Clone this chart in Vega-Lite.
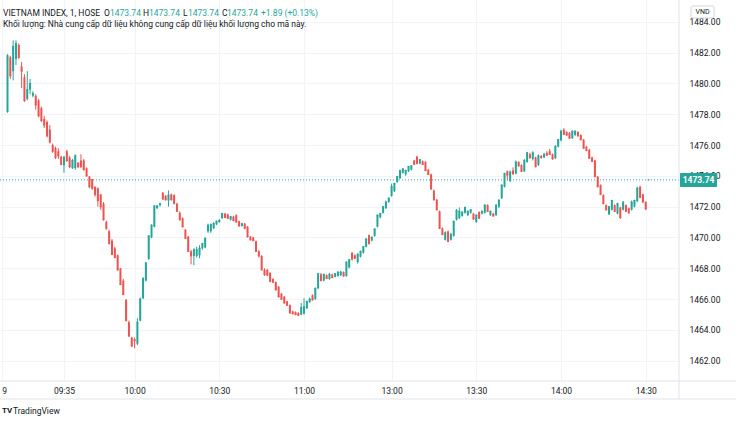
{
"$schema": "https://vega.github.io/schema/vega-lite/v6.json",
"width": 679, "height": 381,
"autosize": {"type": "none"},
"padding": {"left": 0, "top": 0, "right": 57, "bottom": 49},
"background": "#ffffff",
"config": {"view": {"stroke": null}, "font": "Roboto"},
"datasets": {
"candles": [
{"i":0,"o":1478.15,"h":1481.9,"l":1478.1,"c":1481.8},
{"i":1,"o":1481.7,"h":1481.8,"l":1480.3,"c":1480.5},
{"i":2,"o":1480.8,"h":1482.8,"l":1480.2,"c":1482.4},
{"i":3,"o":1481.6,"h":1482.8,"l":1481.2,"c":1482.6},
{"i":4,"o":1482.5,"h":1482.6,"l":1481.6,"c":1481.7},
{"i":5,"o":1481.1,"h":1481.4,"l":1479.7,"c":1480.8},
{"i":6,"o":1480.4,"h":1480.6,"l":1478.8,"c":1478.9},
{"i":7,"o":1479.0,"h":1480.8,"l":1478.9,"c":1479.6},
{"i":8,"o":1479.6,"h":1480.3,"l":1479.3,"c":1480.0},
{"i":9,"o":1479.2,"h":1479.5,"l":1479.1,"c":1479.35},
{"i":10,"o":1479.2,"h":1479.3,"l":1478.3,"c":1478.6},
{"i":11,"o":1478.9,"h":1479.0,"l":1477.8,"c":1477.9},
{"i":12,"o":1478.4,"h":1478.5,"l":1477.5,"c":1477.6},
{"i":13,"o":1477.7,"h":1477.9,"l":1477.1,"c":1477.3},
{"i":14,"o":1477.5,"h":1477.6,"l":1476.5,"c":1476.6},
{"i":15,"o":1477.0,"h":1477.3,"l":1476.1,"c":1476.2},
{"i":16,"o":1476.0,"h":1476.1,"l":1475.5,"c":1475.6},
{"i":17,"o":1475.8,"h":1475.9,"l":1475.1,"c":1475.2},
{"i":18,"o":1475.6,"h":1475.8,"l":1475.1,"c":1475.3},
{"i":19,"o":1475.25,"h":1475.3,"l":1474.7,"c":1474.75},
{"i":20,"o":1474.7,"h":1475.3,"l":1474.2,"c":1475.2},
{"i":21,"o":1475.6,"h":1475.7,"l":1474.9,"c":1475.0},
{"i":22,"o":1475.2,"h":1475.3,"l":1474.5,"c":1474.6},
{"i":23,"o":1474.5,"h":1475.1,"l":1474.45,"c":1475.0},
{"i":24,"o":1474.5,"h":1475.4,"l":1474.4,"c":1475.3},
{"i":25,"o":1474.85,"h":1474.9,"l":1474.5,"c":1474.6},
{"i":26,"o":1475.0,"h":1475.4,"l":1474.5,"c":1474.6},
{"i":27,"o":1475.0,"h":1475.1,"l":1474.35,"c":1474.4},
{"i":28,"o":1474.5,"h":1474.55,"l":1473.95,"c":1474.0},
{"i":29,"o":1473.95,"h":1474.0,"l":1473.2,"c":1473.3},
{"i":30,"o":1473.8,"h":1473.8,"l":1473.1,"c":1473.2},
{"i":31,"o":1473.3,"h":1473.3,"l":1472.65,"c":1472.8},
{"i":32,"o":1473.2,"h":1473.25,"l":1472.0,"c":1472.4},
{"i":33,"o":1472.8,"h":1472.8,"l":1471.8,"c":1472.0},
{"i":34,"o":1472.2,"h":1472.3,"l":1471.1,"c":1471.15},
{"i":35,"o":1471.0,"h":1471.1,"l":1470.5,"c":1470.6},
{"i":36,"o":1470.4,"h":1470.5,"l":1469.55,"c":1469.6},
{"i":37,"o":1469.8,"h":1469.9,"l":1468.85,"c":1468.9},
{"i":38,"o":1469.3,"h":1469.4,"l":1468.65,"c":1468.7},
{"i":39,"o":1468.85,"h":1468.9,"l":1467.85,"c":1467.9},
{"i":40,"o":1468.0,"h":1468.0,"l":1466.9,"c":1466.95},
{"i":41,"o":1467.2,"h":1467.3,"l":1466.25,"c":1466.3},
{"i":42,"o":1465.95,"h":1466.0,"l":1464.55,"c":1464.6},
{"i":43,"o":1464.5,"h":1464.6,"l":1463.55,"c":1463.6},
{"i":44,"o":1463.5,"h":1463.55,"l":1462.9,"c":1462.95},
{"i":45,"o":1463.4,"h":1463.5,"l":1462.8,"c":1463.3},
{"i":46,"o":1463.1,"h":1464.75,"l":1463.0,"c":1464.5},
{"i":47,"o":1464.6,"h":1466.1,"l":1464.55,"c":1466.0},
{"i":48,"o":1466.05,"h":1467.4,"l":1466.0,"c":1467.35},
{"i":49,"o":1467.2,"h":1468.4,"l":1467.15,"c":1468.35},
{"i":50,"o":1468.6,"h":1470.15,"l":1468.55,"c":1470.1},
{"i":51,"o":1470.0,"h":1470.85,"l":1469.95,"c":1470.8},
{"i":52,"o":1470.7,"h":1472.1,"l":1470.65,"c":1472.05},
{"i":53,"o":1471.9,"h":1472.1,"l":1471.85,"c":1472.05},
{"i":54,"o":1472.1,"h":1472.25,"l":1472.0,"c":1472.2},
{"i":55,"o":1472.9,"h":1472.95,"l":1472.45,"c":1472.5},
{"i":56,"o":1472.7,"h":1472.75,"l":1472.4,"c":1472.45},
{"i":57,"o":1472.4,"h":1473.05,"l":1472.0,"c":1472.75},
{"i":58,"o":1472.8,"h":1472.85,"l":1472.4,"c":1472.45},
{"i":59,"o":1472.75,"h":1472.8,"l":1472.15,"c":1472.2},
{"i":60,"o":1472.2,"h":1472.25,"l":1471.65,"c":1471.7},
{"i":61,"o":1471.6,"h":1471.7,"l":1471.1,"c":1471.15},
{"i":62,"o":1471.25,"h":1471.3,"l":1470.65,"c":1470.7},
{"i":63,"o":1470.5,"h":1470.55,"l":1469.9,"c":1469.95},
{"i":64,"o":1470.05,"h":1470.1,"l":1469.05,"c":1469.1},
{"i":65,"o":1469.1,"h":1469.2,"l":1468.25,"c":1468.8},
{"i":66,"o":1468.8,"h":1469.3,"l":1468.2,"c":1469.2},
{"i":67,"o":1468.8,"h":1469.4,"l":1468.7,"c":1469.2},
{"i":68,"o":1468.85,"h":1469.5,"l":1468.65,"c":1469.3},
{"i":69,"o":1469.3,"h":1469.65,"l":1469.2,"c":1469.6},
{"i":70,"o":1469.35,"h":1470.0,"l":1469.3,"c":1469.95},
{"i":71,"o":1470.4,"h":1470.9,"l":1470.3,"c":1470.8},
{"i":72,"o":1470.4,"h":1470.9,"l":1470.3,"c":1470.85},
{"i":73,"o":1470.6,"h":1471.0,"l":1470.55,"c":1470.9},
{"i":74,"o":1470.85,"h":1471.1,"l":1470.8,"c":1471.05},
{"i":75,"o":1471.0,"h":1471.2,"l":1470.95,"c":1471.1},
{"i":76,"o":1471.25,"h":1471.6,"l":1471.2,"c":1471.55},
{"i":77,"o":1471.55,"h":1471.6,"l":1471.25,"c":1471.3},
{"i":78,"o":1471.5,"h":1471.55,"l":1471.2,"c":1471.25},
{"i":79,"o":1471.15,"h":1471.4,"l":1471.1,"c":1471.35},
{"i":80,"o":1471.35,"h":1471.4,"l":1471.05,"c":1471.1},
{"i":81,"o":1471.45,"h":1471.5,"l":1470.95,"c":1471.0},
{"i":82,"o":1471.05,"h":1471.1,"l":1470.7,"c":1470.75},
{"i":83,"o":1470.75,"h":1470.95,"l":1470.7,"c":1470.9},
{"i":84,"o":1470.9,"h":1470.95,"l":1470.55,"c":1470.6},
{"i":85,"o":1470.7,"h":1470.75,"l":1470.0,"c":1470.05},
{"i":86,"o":1470.05,"h":1470.1,"l":1469.8,"c":1469.85},
{"i":87,"o":1470.0,"h":1470.05,"l":1469.75,"c":1469.8},
{"i":88,"o":1469.75,"h":1469.8,"l":1469.05,"c":1469.1},
{"i":89,"o":1469.1,"h":1469.2,"l":1468.7,"c":1468.8},
{"i":90,"o":1468.8,"h":1468.85,"l":1467.85,"c":1467.9},
{"i":91,"o":1467.9,"h":1468.0,"l":1467.5,"c":1467.6},
{"i":92,"o":1467.9,"h":1467.95,"l":1467.5,"c":1467.55},
{"i":93,"o":1467.7,"h":1467.75,"l":1467.1,"c":1467.15},
{"i":94,"o":1467.3,"h":1467.35,"l":1467.05,"c":1467.1},
{"i":95,"o":1467.1,"h":1467.15,"l":1466.55,"c":1466.6},
{"i":96,"o":1466.8,"h":1466.85,"l":1466.1,"c":1466.15},
{"i":97,"o":1466.35,"h":1466.4,"l":1465.95,"c":1466.0},
{"i":98,"o":1466.15,"h":1466.2,"l":1465.7,"c":1465.75},
{"i":99,"o":1465.85,"h":1465.9,"l":1465.55,"c":1465.6},
{"i":100,"o":1465.6,"h":1465.65,"l":1465.05,"c":1465.1},
{"i":101,"o":1465.2,"h":1465.25,"l":1465.0,"c":1465.05},
{"i":102,"o":1465.15,"h":1465.2,"l":1464.95,"c":1465.0},
{"i":103,"o":1465.1,"h":1465.15,"l":1464.9,"c":1464.95},
{"i":104,"o":1465.0,"h":1465.75,"l":1464.95,"c":1465.45},
{"i":105,"o":1465.05,"h":1466.05,"l":1465.0,"c":1465.5},
{"i":106,"o":1465.4,"h":1465.9,"l":1465.35,"c":1465.85},
{"i":107,"o":1465.8,"h":1466.1,"l":1465.75,"c":1466.0},
{"i":108,"o":1466.25,"h":1466.3,"l":1465.9,"c":1465.95},
{"i":109,"o":1466.0,"h":1466.75,"l":1465.95,"c":1466.7},
{"i":110,"o":1466.7,"h":1467.7,"l":1466.65,"c":1467.65},
{"i":111,"o":1467.6,"h":1467.7,"l":1467.15,"c":1467.2},
{"i":112,"o":1467.2,"h":1467.65,"l":1467.15,"c":1467.6},
{"i":113,"o":1467.55,"h":1467.6,"l":1467.3,"c":1467.35},
{"i":114,"o":1467.3,"h":1467.7,"l":1467.25,"c":1467.6},
{"i":115,"o":1467.6,"h":1467.65,"l":1467.35,"c":1467.4},
{"i":116,"o":1467.45,"h":1467.7,"l":1467.4,"c":1467.65},
{"i":117,"o":1467.5,"h":1467.8,"l":1467.45,"c":1467.75},
{"i":118,"o":1467.55,"h":1467.85,"l":1467.5,"c":1467.75},
{"i":119,"o":1467.75,"h":1467.8,"l":1467.45,"c":1467.5},
{"i":120,"o":1467.5,"h":1468.45,"l":1467.45,"c":1468.4},
{"i":121,"o":1468.05,"h":1468.6,"l":1468.0,"c":1468.55},
{"i":122,"o":1469.0,"h":1469.05,"l":1468.5,"c":1468.6},
{"i":123,"o":1468.85,"h":1468.9,"l":1468.6,"c":1468.65},
{"i":124,"o":1468.4,"h":1469.0,"l":1468.3,"c":1468.9},
{"i":125,"o":1468.75,"h":1469.15,"l":1468.7,"c":1469.1},
{"i":126,"o":1469.0,"h":1469.45,"l":1468.95,"c":1469.4},
{"i":127,"o":1469.4,"h":1469.95,"l":1469.35,"c":1469.9},
{"i":128,"o":1470.15,"h":1470.2,"l":1469.55,"c":1469.6},
{"i":129,"o":1469.8,"h":1470.1,"l":1469.75,"c":1470.0},
{"i":130,"o":1470.1,"h":1470.6,"l":1470.05,"c":1470.55},
{"i":131,"o":1470.7,"h":1471.5,"l":1470.65,"c":1471.45},
{"i":132,"o":1471.3,"h":1471.6,"l":1471.25,"c":1471.55},
{"i":133,"o":1471.6,"h":1472.05,"l":1471.55,"c":1472.0},
{"i":134,"o":1471.9,"h":1472.4,"l":1471.85,"c":1472.3},
{"i":135,"o":1472.3,"h":1472.6,"l":1472.25,"c":1472.55},
{"i":136,"o":1472.7,"h":1473.5,"l":1472.65,"c":1473.3},
{"i":137,"o":1473.0,"h":1473.55,"l":1472.95,"c":1473.5},
{"i":138,"o":1473.6,"h":1474.0,"l":1473.55,"c":1473.95},
{"i":139,"o":1473.85,"h":1474.4,"l":1473.8,"c":1474.35},
{"i":140,"o":1474.2,"h":1474.5,"l":1474.15,"c":1474.45},
{"i":141,"o":1474.1,"h":1474.4,"l":1474.0,"c":1474.35},
{"i":142,"o":1474.3,"h":1474.65,"l":1474.25,"c":1474.6},
{"i":143,"o":1474.4,"h":1474.7,"l":1474.35,"c":1474.65},
{"i":144,"o":1475.0,"h":1475.05,"l":1474.7,"c":1474.75},
{"i":145,"o":1475.25,"h":1475.3,"l":1474.75,"c":1474.8},
{"i":146,"o":1474.8,"h":1475.1,"l":1474.75,"c":1475.05},
{"i":147,"o":1474.95,"h":1475.0,"l":1474.7,"c":1474.75},
{"i":148,"o":1474.9,"h":1474.95,"l":1474.3,"c":1474.35},
{"i":149,"o":1474.4,"h":1474.45,"l":1474.05,"c":1474.1},
{"i":150,"o":1474.1,"h":1474.15,"l":1473.1,"c":1473.15},
{"i":151,"o":1473.05,"h":1473.1,"l":1472.4,"c":1472.45},
{"i":152,"o":1472.45,"h":1472.5,"l":1471.75,"c":1471.8},
{"i":153,"o":1471.7,"h":1471.75,"l":1470.55,"c":1470.6},
{"i":154,"o":1470.6,"h":1470.65,"l":1470.15,"c":1470.2},
{"i":155,"o":1469.85,"h":1470.4,"l":1469.8,"c":1470.3},
{"i":156,"o":1470.4,"h":1470.45,"l":1469.7,"c":1469.75},
{"i":157,"o":1469.85,"h":1470.3,"l":1469.8,"c":1470.2},
{"i":158,"o":1470.1,"h":1471.1,"l":1470.05,"c":1471.05},
{"i":159,"o":1471.15,"h":1471.85,"l":1471.1,"c":1471.75},
{"i":160,"o":1471.25,"h":1471.95,"l":1471.2,"c":1471.7},
{"i":161,"o":1471.4,"h":1471.7,"l":1471.35,"c":1471.65},
{"i":162,"o":1471.6,"h":1472.0,"l":1471.55,"c":1471.95},
{"i":163,"o":1471.45,"h":1471.75,"l":1471.4,"c":1471.7},
{"i":164,"o":1471.6,"h":1471.85,"l":1471.55,"c":1471.8},
{"i":165,"o":1471.55,"h":1471.6,"l":1471.15,"c":1471.2},
{"i":166,"o":1471.0,"h":1471.5,"l":1470.95,"c":1471.45},
{"i":167,"o":1471.65,"h":1471.7,"l":1471.2,"c":1471.25},
{"i":168,"o":1471.55,"h":1471.75,"l":1471.5,"c":1471.7},
{"i":169,"o":1471.6,"h":1472.15,"l":1471.55,"c":1472.1},
{"i":170,"o":1472.1,"h":1472.15,"l":1471.65,"c":1471.7},
{"i":171,"o":1471.45,"h":1471.75,"l":1471.4,"c":1471.7},
{"i":172,"o":1471.55,"h":1471.6,"l":1471.35,"c":1471.4},
{"i":173,"o":1471.45,"h":1472.15,"l":1471.4,"c":1472.1},
{"i":174,"o":1472.0,"h":1472.5,"l":1471.9,"c":1472.4},
{"i":175,"o":1472.55,"h":1473.45,"l":1472.5,"c":1473.4},
{"i":176,"o":1473.3,"h":1474.2,"l":1473.25,"c":1474.15},
{"i":177,"o":1474.3,"h":1474.35,"l":1473.7,"c":1474.05},
{"i":178,"o":1473.65,"h":1474.35,"l":1473.6,"c":1474.25},
{"i":179,"o":1474.35,"h":1474.55,"l":1474.05,"c":1474.15},
{"i":180,"o":1474.15,"h":1475.0,"l":1474.1,"c":1474.9},
{"i":181,"o":1474.9,"h":1474.95,"l":1474.6,"c":1474.65},
{"i":182,"o":1474.7,"h":1474.75,"l":1474.25,"c":1474.3},
{"i":183,"o":1474.3,"h":1475.1,"l":1474.25,"c":1475.0},
{"i":184,"o":1474.9,"h":1475.55,"l":1474.85,"c":1475.5},
{"i":185,"o":1475.4,"h":1475.5,"l":1475.1,"c":1475.2},
{"i":186,"o":1475.1,"h":1475.6,"l":1475.0,"c":1475.5},
{"i":187,"o":1475.2,"h":1475.25,"l":1474.55,"c":1474.6},
{"i":188,"o":1474.7,"h":1475.4,"l":1474.65,"c":1475.3},
{"i":189,"o":1475.3,"h":1475.35,"l":1475.1,"c":1475.2},
{"i":190,"o":1475.2,"h":1475.5,"l":1475.15,"c":1475.4},
{"i":191,"o":1475.5,"h":1475.6,"l":1475.3,"c":1475.35},
{"i":192,"o":1475.6,"h":1475.75,"l":1475.35,"c":1475.4},
{"i":193,"o":1475.4,"h":1475.45,"l":1475.05,"c":1475.1},
{"i":194,"o":1475.15,"h":1476.0,"l":1475.1,"c":1475.9},
{"i":195,"o":1475.9,"h":1476.4,"l":1475.85,"c":1476.35},
{"i":196,"o":1476.3,"h":1477.0,"l":1476.25,"c":1476.9},
{"i":197,"o":1477.0,"h":1477.1,"l":1476.65,"c":1476.7},
{"i":198,"o":1476.85,"h":1476.9,"l":1476.6,"c":1476.65},
{"i":199,"o":1476.8,"h":1476.85,"l":1476.4,"c":1476.45},
{"i":200,"o":1476.45,"h":1476.95,"l":1476.4,"c":1476.9},
{"i":201,"o":1476.65,"h":1476.95,"l":1476.6,"c":1476.9},
{"i":202,"o":1476.85,"h":1476.9,"l":1476.55,"c":1476.6},
{"i":203,"o":1476.65,"h":1476.7,"l":1476.3,"c":1476.35},
{"i":204,"o":1476.35,"h":1476.4,"l":1475.75,"c":1475.8},
{"i":205,"o":1475.9,"h":1475.95,"l":1475.6,"c":1475.65},
{"i":206,"o":1475.7,"h":1475.75,"l":1475.1,"c":1475.15},
{"i":207,"o":1475.2,"h":1475.25,"l":1474.9,"c":1474.95},
{"i":208,"o":1475.0,"h":1475.05,"l":1473.9,"c":1473.95},
{"i":209,"o":1473.95,"h":1474.0,"l":1473.25,"c":1473.3},
{"i":210,"o":1473.4,"h":1473.45,"l":1472.75,"c":1472.8},
{"i":211,"o":1472.75,"h":1472.8,"l":1472.15,"c":1472.2},
{"i":212,"o":1472.1,"h":1472.15,"l":1471.75,"c":1471.8},
{"i":213,"o":1471.5,"h":1472.05,"l":1471.45,"c":1472.0},
{"i":214,"o":1471.8,"h":1472.45,"l":1471.75,"c":1472.4},
{"i":215,"o":1472.1,"h":1472.15,"l":1471.65,"c":1471.7},
{"i":216,"o":1471.55,"h":1472.25,"l":1471.5,"c":1472.2},
{"i":217,"o":1471.95,"h":1472.0,"l":1471.2,"c":1471.3},
{"i":218,"o":1471.8,"h":1472.35,"l":1471.75,"c":1472.3},
{"i":219,"o":1472.1,"h":1472.15,"l":1471.65,"c":1471.7},
{"i":220,"o":1471.9,"h":1471.95,"l":1471.55,"c":1471.6},
{"i":221,"o":1471.8,"h":1472.4,"l":1471.75,"c":1472.3},
{"i":222,"o":1472.0,"h":1472.45,"l":1471.95,"c":1472.4},
{"i":223,"o":1472.35,"h":1473.3,"l":1472.3,"c":1473.2},
{"i":224,"o":1473.3,"h":1473.35,"l":1472.55,"c":1472.6},
{"i":225,"o":1472.8,"h":1472.85,"l":1472.25,"c":1472.3},
{"i":226,"o":1472.3,"h":1472.35,"l":1471.8,"c":1471.85},
{"i":227,"o":1473.74,"h":1473.74,"l":1473.74,"c":1473.74}
]
},
"layer": [
{
"data": {"name": "candles"},
"mark": {"type": "rule", "strokeWidth": 1},
"encoding": {
"x": {"field": "i", "type": "quantitative", "scale": {"domain": [-2.656, 237.78], "nice": false, "zero": false},
 "axis": {"title": null, "orient": "bottom", "values": [-2, 20, 45, 75, 105, 136, 166, 196, 226], "tickCount": 30,
  "labelExpr": "datum.value==20?'09:35':datum.value==45?'10:00':datum.value==75?'10:30':datum.value==105?'11:00':datum.value==136?'13:00':datum.value==166?'13:30':datum.value==196?'14:00':datum.value==226?'14:30':'9'",
  "labelAlign": {"condition": {"test": "datum.value == -2", "value": "left"}, "value": "center"},
  "domain": false, "ticks": false, "grid": true, "gridColor": "#f0f3fa", "gridWidth": 1,
  "labelColor": "#131722", "labelFontSize": 8.5, "labelPadding": 5, "labelFlush": false, "labelOverlap": false, "labelBound": false}},
"y": {"field": "l", "type": "quantitative", "scale": {"domain": [1460.68, 1485.42], "nice": false, "zero": false},
 "axis": {"title": null, "orient": "right", "values": [1462,1464,1466,1468,1470,1472,1474,1476,1478,1480,1482,1484], "tickCount": 30,
  "format": ".2f", "domain": false, "ticks": false, "grid": true, "gridColor": "#f0f3fa", "gridWidth": 1,
  "labelColor": "#131722", "labelFontSize": 8.5, "labelPadding": 10, "labelOverlap": false, "labelBound": false}},
"y2": {"field": "h"},
"color": {"condition": {"test": "datum.c >= datum.o", "value": "#26a69a"}, "value": "#ef5350"}
}
},
{
"data": {"name": "candles"},
"mark": {"type": "rule", "strokeWidth": 2},
"encoding": {
"x": {"field": "i", "type": "quantitative", "scale": {"domain": [-2.656, 237.78], "nice": false, "zero": false}},
"y": {"field": "o", "type": "quantitative", "scale": {"domain": [1460.68, 1485.42], "nice": false, "zero": false}},
"y2": {"field": "c"},
"color": {"condition": {"test": "datum.c >= datum.o", "value": "#26a69a"}, "value": "#ef5350"}
}
},
{
"data": {"name": "candles"},
"mark": {"type": "tick", "orient": "horizontal", "size": 2, "thickness": 1, "opacity": 1},
"encoding": {
"x": {"field": "i", "type": "quantitative", "scale": {"domain": [-2.656, 237.78], "nice": false, "zero": false}},
"y": {"field": "c", "type": "quantitative", "scale": {"domain": [1460.68, 1485.42], "nice": false, "zero": false}},
"color": {"condition": {"test": "datum.c >= datum.o", "value": "#26a69a"}, "value": "#ef5350"}
}
},
{
"data": {"values": [{"last": 1473.74}]},
"mark": {"type": "rule", "strokeDash": [1, 2], "strokeWidth": 1, "color": "#26a69a"},
"encoding": {
"y": {"field": "last", "type": "quantitative", "scale": {"domain": [1460.68, 1485.42], "nice": false, "zero": false}}
}
},
{
"data": {"values": [{}]},
"mark": {"type": "rule", "color": "#e0e3eb", "strokeWidth": 1},
"encoding": {
"x": {"datum": -2.656, "type": "quantitative", "scale": {"domain": [-2.656, 237.78], "nice": false, "zero": false}},
"x2": {"datum": 257.97},
"y": {"datum": 1460.68, "type": "quantitative", "scale": {"domain": [1460.68, 1485.42], "nice": false, "zero": false}}
}
},
{
"data": {"values": [{}]},
"mark": {"type": "rule", "color": "#e0e3eb", "strokeWidth": 1},
"encoding": {
"x": {"datum": -2.656, "type": "quantitative", "scale": {"domain": [-2.656, 237.78], "nice": false, "zero": false}},
"x2": {"datum": 257.97},
"y": {"datum": 1459.511, "type": "quantitative", "scale": {"domain": [1460.68, 1485.42], "nice": false, "zero": false}}
}
},
{
"data": {"values": [{}]},
"mark": {"type": "rule", "color": "#e0e3eb", "strokeWidth": 1},
"encoding": {
"x": {"datum": 237.78, "type": "quantitative", "scale": {"domain": [-2.656, 237.78], "nice": false, "zero": false}},
"y": {"datum": 1485.42, "type": "quantitative", "scale": {"domain": [1460.68, 1485.42], "nice": false, "zero": false}},
"y2": {"datum": 1459.511}
}
},
{
"data": {"values": [{}]},
"mark": {"type": "rect", "color": "#26a69a", "cornerRadius": 1},
"encoding": {
"x": {"datum": 238.13, "type": "quantitative", "scale": {"domain": [-2.656, 237.78], "nice": false, "zero": false}},
"x2": {"datum": 251.24},
"y": {"datum": 1474.19, "type": "quantitative", "scale": {"domain": [1460.68, 1485.42], "nice": false, "zero": false}},
"y2": {"datum": 1473.28}
}
},
{
"data": {"values": [{"label": "1473.74"}]},
"mark": {"type": "text", "color": "#ffffff", "fontSize": 8.5, "fontWeight": "bold", "align": "center", "baseline": "middle"},
"encoding": {
"x": {"datum": 244.69, "type": "quantitative", "scale": {"domain": [-2.656, 237.78], "nice": false, "zero": false}},
"y": {"datum": 1473.74, "type": "quantitative", "scale": {"domain": [1460.68, 1485.42], "nice": false, "zero": false}},
"text": {"field": "label"}
}
},
{
"data": {"values": [{}]},
"mark": {"type": "rect", "fill": "#ffffff", "stroke": "#d1d4dc", "strokeWidth": 1, "cornerRadius": 2},
"encoding": {
"x": {"datum": 242.03, "type": "quantitative", "scale": {"domain": [-2.656, 237.78], "nice": false, "zero": false}},
"x2": {"datum": 250.18},
"y": {"datum": 1485.03, "type": "quantitative", "scale": {"domain": [1460.68, 1485.42], "nice": false, "zero": false}},
"y2": {"datum": 1484.25}
}
},
{
"data": {"values": [{"label": "VND"}]},
"mark": {"type": "text", "color": "#131722", "fontSize": 7, "align": "center", "baseline": "middle"},
"encoding": {
"x": {"datum": 246.1, "type": "quantitative", "scale": {"domain": [-2.656, 237.78], "nice": false, "zero": false}},
"y": {"datum": 1484.64, "type": "quantitative", "scale": {"domain": [1460.68, 1485.42], "nice": false, "zero": false}},
"text": {"field": "label"}
}
},
{
"data": {"values": [{"label": "VIETNAM INDEX, 1, HOSE"}]},
"mark": {"type": "text", "color": "#131722", "fontSize": 8.5, "align": "left", "baseline": "middle"},
"encoding": {
"x": {"datum": -1.594, "type": "quantitative", "scale": {"domain": [-2.656, 237.78], "nice": false, "zero": false}},
"y": {"datum": 1484.595, "type": "quantitative", "scale": {"domain": [1460.68, 1485.42], "nice": false, "zero": false}},
"text": {"field": "label"}
}
},
{
"data": {"values": [{"label": "O"}]},
"mark": {"type": "text", "color": "#131722", "fontSize": 8.5, "align": "left", "baseline": "middle"},
"encoding": {
"x": {"datum": 34.17, "type": "quantitative", "scale": {"domain": [-2.656, 237.78], "nice": false, "zero": false}},
"y": {"datum": 1484.595, "type": "quantitative", "scale": {"domain": [1460.68, 1485.42], "nice": false, "zero": false}},
"text": {"field": "label"}
}
},
{
"data": {"values": [{"label": "1473.74"}]},
"mark": {"type": "text", "color": "#26a69a", "fontSize": 8.5, "align": "left", "baseline": "middle"},
"encoding": {
"x": {"datum": 36.3, "type": "quantitative", "scale": {"domain": [-2.656, 237.78], "nice": false, "zero": false}},
"y": {"datum": 1484.595, "type": "quantitative", "scale": {"domain": [1460.68, 1485.42], "nice": false, "zero": false}},
"text": {"field": "label"}
}
},
{
"data": {"values": [{"label": "H"}]},
"mark": {"type": "text", "color": "#131722", "fontSize": 8.5, "align": "left", "baseline": "middle"},
"encoding": {
"x": {"datum": 47.98, "type": "quantitative", "scale": {"domain": [-2.656, 237.78], "nice": false, "zero": false}},
"y": {"datum": 1484.595, "type": "quantitative", "scale": {"domain": [1460.68, 1485.42], "nice": false, "zero": false}},
"text": {"field": "label"}
}
},
{
"data": {"values": [{"label": "1473.74"}]},
"mark": {"type": "text", "color": "#26a69a", "fontSize": 8.5, "align": "left", "baseline": "middle"},
"encoding": {
"x": {"datum": 50.11, "type": "quantitative", "scale": {"domain": [-2.656, 237.78], "nice": false, "zero": false}},
"y": {"datum": 1484.595, "type": "quantitative", "scale": {"domain": [1460.68, 1485.42], "nice": false, "zero": false}},
"text": {"field": "label"}
}
},
{
"data": {"values": [{"label": "L"}]},
"mark": {"type": "text", "color": "#131722", "fontSize": 8.5, "align": "left", "baseline": "middle"},
"encoding": {
"x": {"datum": 62.15, "type": "quantitative", "scale": {"domain": [-2.656, 237.78], "nice": false, "zero": false}},
"y": {"datum": 1484.595, "type": "quantitative", "scale": {"domain": [1460.68, 1485.42], "nice": false, "zero": false}},
"text": {"field": "label"}
}
},
{
"data": {"values": [{"label": "1473.74"}]},
"mark": {"type": "text", "color": "#26a69a", "fontSize": 8.5, "align": "left", "baseline": "middle"},
"encoding": {
"x": {"datum": 63.92, "type": "quantitative", "scale": {"domain": [-2.656, 237.78], "nice": false, "zero": false}},
"y": {"datum": 1484.595, "type": "quantitative", "scale": {"domain": [1460.68, 1485.42], "nice": false, "zero": false}},
"text": {"field": "label"}
}
},
{
"data": {"values": [{"label": "C"}]},
"mark": {"type": "text", "color": "#131722", "fontSize": 8.5, "align": "left", "baseline": "middle"},
"encoding": {
"x": {"datum": 75.96, "type": "quantitative", "scale": {"domain": [-2.656, 237.78], "nice": false, "zero": false}},
"y": {"datum": 1484.595, "type": "quantitative", "scale": {"domain": [1460.68, 1485.42], "nice": false, "zero": false}},
"text": {"field": "label"}
}
},
{
"data": {"values": [{"label": "1473.74"}]},
"mark": {"type": "text", "color": "#26a69a", "fontSize": 8.5, "align": "left", "baseline": "middle"},
"encoding": {
"x": {"datum": 77.73, "type": "quantitative", "scale": {"domain": [-2.656, 237.78], "nice": false, "zero": false}},
"y": {"datum": 1484.595, "type": "quantitative", "scale": {"domain": [1460.68, 1485.42], "nice": false, "zero": false}},
"text": {"field": "label"}
}
},
{
"data": {"values": [{"label": "+1.89 (+0.13%)"}]},
"mark": {"type": "text", "color": "#26a69a", "fontSize": 8.5, "align": "left", "baseline": "middle"},
"encoding": {
"x": {"datum": 89.77, "type": "quantitative", "scale": {"domain": [-2.656, 237.78], "nice": false, "zero": false}},
"y": {"datum": 1484.595, "type": "quantitative", "scale": {"domain": [1460.68, 1485.42], "nice": false, "zero": false}},
"text": {"field": "label"}
}
},
{
"data": {"values": [{"label": "Khối lượng: Nhà cung cấp dữ liệu không cung cấp dữ liệu khối lượng cho mã này."}]},
"mark": {"type": "text", "color": "#131722", "fontSize": 8.5, "align": "left", "baseline": "middle"},
"encoding": {
"x": {"datum": -1.594, "type": "quantitative", "scale": {"domain": [-2.656, 237.78], "nice": false, "zero": false}},
"y": {"datum": 1483.842, "type": "quantitative", "scale": {"domain": [1460.68, 1485.42], "nice": false, "zero": false}},
"text": {"field": "label"}
}
},
{
"data": {"values": [{"label": "TV"}]},
"mark": {"type": "text", "color": "#131722", "fontSize": 8, "fontWeight": "bold", "align": "left", "baseline": "middle"},
"encoding": {
"x": {"datum": -1.948, "type": "quantitative", "scale": {"domain": [-2.656, 237.78], "nice": false, "zero": false}},
"y": {"datum": 1458.73, "type": "quantitative", "scale": {"domain": [1460.68, 1485.42], "nice": false, "zero": false}},
"text": {"field": "label"}
}
},
{
"data": {"values": [{"label": "TradingView"}]},
"mark": {"type": "text", "color": "#131722", "fontSize": 8.5, "align": "left", "baseline": "middle"},
"encoding": {
"x": {"datum": 1.947, "type": "quantitative", "scale": {"domain": [-2.656, 237.78], "nice": false, "zero": false}},
"y": {"datum": 1458.73, "type": "quantitative", "scale": {"domain": [1460.68, 1485.42], "nice": false, "zero": false}},
"text": {"field": "label"}
}
}
]
}
